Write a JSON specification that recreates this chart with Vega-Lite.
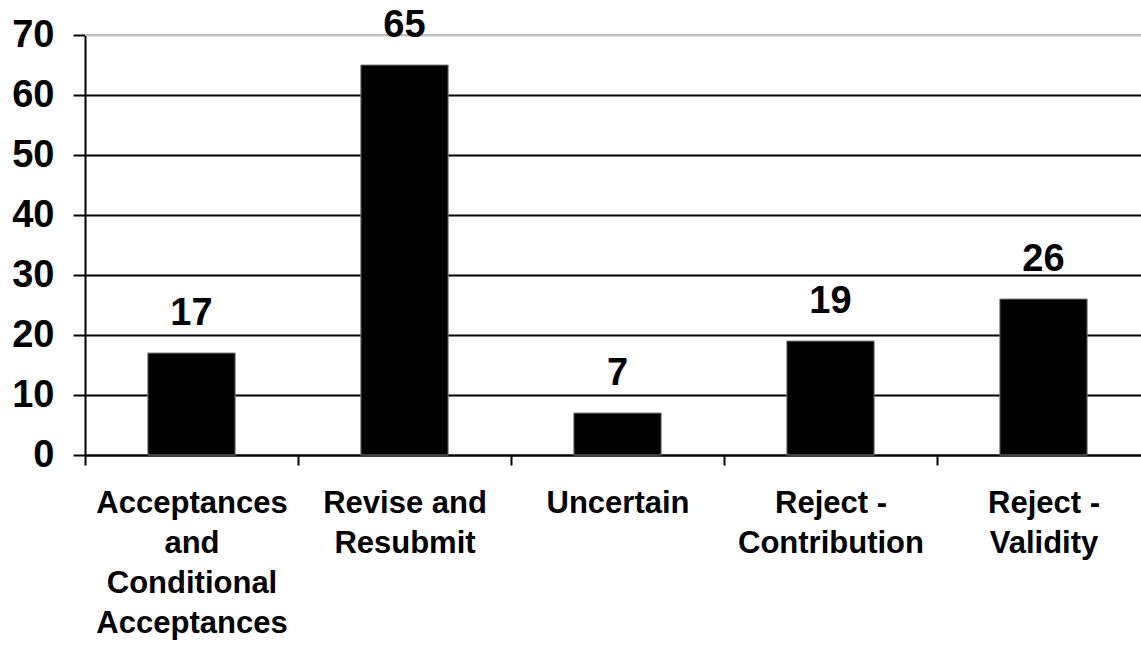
{
  "$schema": "https://vega.github.io/schema/vega-lite/v6.json",
  "width": 1056,
  "height": 420,
  "autosize": {"type": "none"},
  "padding": {"left": 85, "top": 35, "right": 0, "bottom": 190},
  "background": "white",
  "config": {
    "view": {"stroke": null},
    "font": "Liberation Sans"
  },
  "data": {
    "values": [
      {"category": "Acceptances and Conditional Acceptances", "value": 17},
      {"category": "Revise and Resubmit", "value": 65},
      {"category": "Uncertain", "value": 7},
      {"category": "Reject - Contribution", "value": 19},
      {"category": "Reject - Validity", "value": 26}
    ]
  },
  "encoding": {
    "x": {
      "field": "category",
      "type": "nominal",
      "sort": null,
      "scale": {"paddingInner": 0, "paddingOuter": 0, "range": [0, 1065]},
      "axis": {
        "title": null,
        "labelAngle": 0,
        "labelFont": "Liberation Sans",
        "labelFontSize": 31,
        "labelFontWeight": "bold",
        "labelColor": "black",
        "labelBaseline": "top",
        "labelLineHeight": 40,
        "labelPadding": 23,
        "labelLimit": 0,
        "labelExpr": "datum.value == 'Acceptances and Conditional Acceptances' ? ['Acceptances','and','Conditional','Acceptances'] : datum.value == 'Revise and Resubmit' ? ['Revise and','Resubmit'] : datum.value == 'Reject - Contribution' ? ['Reject -','Contribution'] : datum.value == 'Reject - Validity' ? ['Reject -','Validity'] : datum.value",
        "tickBand": "extent",
        "tickSize": 10,
        "tickWidth": 2,
        "tickColor": "black",
        "domainColor": "black",
        "domainWidth": 2,
        "grid": false
      }
    },
    "y": {
      "field": "value",
      "type": "quantitative",
      "scale": {"domain": [0, 70], "nice": false},
      "axis": {
        "title": null,
        "values": [0, 10, 20, 30, 40, 50, 60, 70],
        "labelFont": "Liberation Sans",
        "labelFontSize": 38,
        "labelFontWeight": "bold",
        "labelColor": "black",
        "labelPadding": 19,
        "tickSize": 12,
        "tickWidth": 2,
        "tickColor": "black",
        "domainColor": "black",
        "domainWidth": 2,
        "grid": true,
        "gridWidth": 2,
        "gridColor": {"condition": {"test": "datum.value >= 70", "value": "#c0c0c0"}, "value": "black"}
      }
    }
  },
  "layer": [
    {
      "mark": {"type": "rule", "color": "#c0c0c0", "strokeWidth": 2},
      "encoding": {"x": null, "y": {"datum": 70, "type": "quantitative"}}
    },
    {
      "mark": {"type": "bar", "width": {"band": 0.41}, "color": "black", "stroke": "#808080", "strokeWidth": 1}
    },
    {
      "mark": {"type": "text", "baseline": "alphabetic", "dy": -28, "fontSize": 38, "fontWeight": "bold", "font": "Liberation Sans", "color": "black"},
      "encoding": {"text": {"field": "value", "type": "quantitative"}}
    }
  ]
}
